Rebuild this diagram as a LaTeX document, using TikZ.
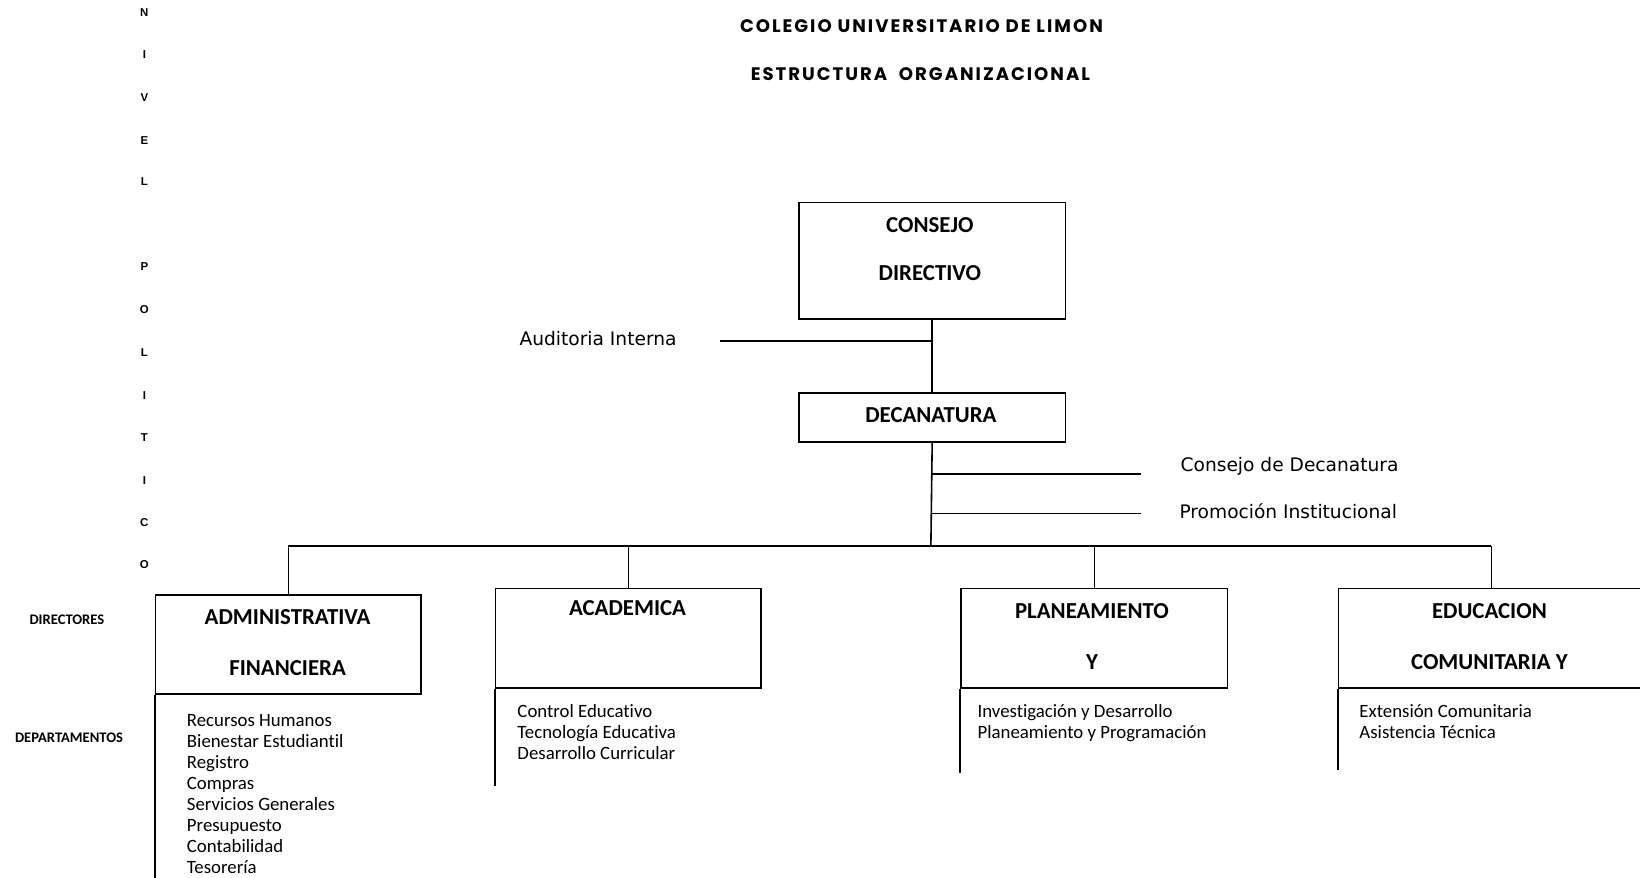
\documentclass[tikz,border=0pt]{standalone}
\usepackage{fontspec}
\setmainfont{Carlito}[Ligatures=NoCommon]
\newfontfamily\verdf{DejaVu Sans}
\newfontfamily\titlef{Poppins}[LetterSpace=11]
\newfontfamily\arialf{Liberation Sans}
\def\U{0.02092cm}
\begin{document}
\begin{tikzpicture}[x=0.02092cm,y=-0.02092cm,
  line width=0.9pt,
  box/.style={draw, line width=0.9pt, inner sep=0pt, anchor=north west},
  bt/.style={font=\fontsize{13}{15}\selectfont\bfseries, inner sep=0pt, anchor=center},
  tt/.style={font=\fontsize{10.3}{12}\selectfont\titlef\bfseries, inner sep=0pt, anchor=center},
  vl/.style={font=\fontsize{6.5}{7}\selectfont\arialf\bfseries, inner sep=0pt, anchor=center},
  side/.style={font=\fontsize{10.6}{12}\selectfont\verdf, inner sep=0pt, anchor=base west},
  dept/.style={font=\fontsize{10.7}{12}\selectfont, inner sep=0pt, anchor=base west},
  lev/.style={font=\fontsize{8.3}{9}\selectfont\bfseries, inner sep=0pt, anchor=center}]
\useasboundingbox (0,0) rectangle (1568,839);
\clip (0,0) rectangle (1568,839);

% titles
\node[tt] (t1) at (881,25) {COLEGIO UNIVERSITARIO DE LIMON};
\node[tt] (t2) at (880,71) {ESTRUCTURA\ \ ORGANIZACIONAL};

% vertical letters
\foreach \ch/\yy [count=\i] in {N/12,I/52,V/93,E/134,L/174,P/255,O/296,L/337,I/378,T/418,I/459,C/500,O/540}
  \node[vl] (v\i) at (138,\yy) {\ch};

% level labels
\node[lev] (dir) at (64,593) {DIRECTORES};
\node[lev] (dep) at (66,705) {DEPARTAMENTOS};

% boxes
\node[box, minimum width={255*\U}, minimum height={111*\U}] (cd) at (763,193) {};
\node[box, minimum width={255*\U}, minimum height={47*\U}] (dec) at (763,375) {};
\node[box, minimum width={254*\U}, minimum height={95*\U}] (adm) at (148,568) {};
\node[box, minimum width={254*\U}, minimum height={95*\U}] (aca) at (473,562) {};
\node[box, minimum width={255*\U}, minimum height={95*\U}] (pla) at (918,562) {};
\node[box, minimum width={330*\U}, minimum height={95*\U}] (edu) at (1279,562) {};

% box texts
\node[bt] (cd1) at (889,215) {CONSEJO};
\node[bt] (cd2) at (889,261) {DIRECTIVO};
\node[bt] (dec1) at (890,397) {DECANATURA};
\node[bt] (adm1) at (275,590) {ADMINISTRATIVA};
\node[bt] (adm2) at (275,639) {FINANCIERA};
\node[bt] (aca1) at (600,581) {ACADEMICA};
\node[bt] (pla1) at (1044,584) {PLANEAMIENTO};
\node[bt] (pla2) at (1044,633) {Y};
\node[bt] (edu1) at (1424,584) {EDUCACION};
\node[bt] (edu2) at (1424,633) {COMUNITARIA Y};

% staff units
\node[side] (aud) at (496,330) {Auditoria Interna};
\node[side] (cdn) at (1128,451) {Consejo de Decanatura};
\node[side] (pin) at (1127,496) {Promoción Institucional};
\coordinate (audl) at (688,326);
\coordinate (cdnl) at (1091,453);
\coordinate (pinl) at (1091,491);
\coordinate (bus) at (890,522);
\coordinate (edud) at (1426,562);

% connectors
\draw (cd.south) -- (dec.north);
\draw (audl) -- (audl -| cd.south);
\draw (dec.south) -- (bus);
\draw (cdnl -| dec.south) -- (cdnl);
\draw (pinl -| dec.south) -- (pinl);
\draw (bus -| adm.north) -- (bus -| edud);
\draw (bus -| adm.north) -- (adm.north);
\draw (bus -| aca.north) -- (aca.north);
\draw (bus -| pla.north) -- (pla.north);
\draw (bus -| edud) -- (edud);

% department rails
\draw (adm.south west) -- ++(0,180);
\draw (aca.south west) -- ++(0,93);
\draw (pla.south west) -- ++(0,81);
\draw (edu.south west) -- ++(0,78);

% departments
\foreach \t [count=\i] in {Recursos Humanos,Bienestar Estudiantil,Registro,Compras,Servicios Generales,Presupuesto,Contabilidad,Tesorería}
  \node[dept] (da\i) at (178,{695+(\i-1)*20}) {\t};
\foreach \t [count=\i] in {Control Educativo,Tecnología Educativa,Desarrollo Curricular}
  \node[dept] (db\i) at (494,{686+(\i-1)*20}) {\t};
\foreach \t [count=\i] in {Investigación y Desarrollo,Planeamiento y Programación}
  \node[dept] (dc\i) at (934,{686+(\i-1)*20}) {\t};
\foreach \t [count=\i] in {Extensión Comunitaria,Asistencia Técnica}
  \node[dept] (dd\i) at (1299,{686+(\i-1)*20}) {\t};
\end{tikzpicture}
\end{document}
